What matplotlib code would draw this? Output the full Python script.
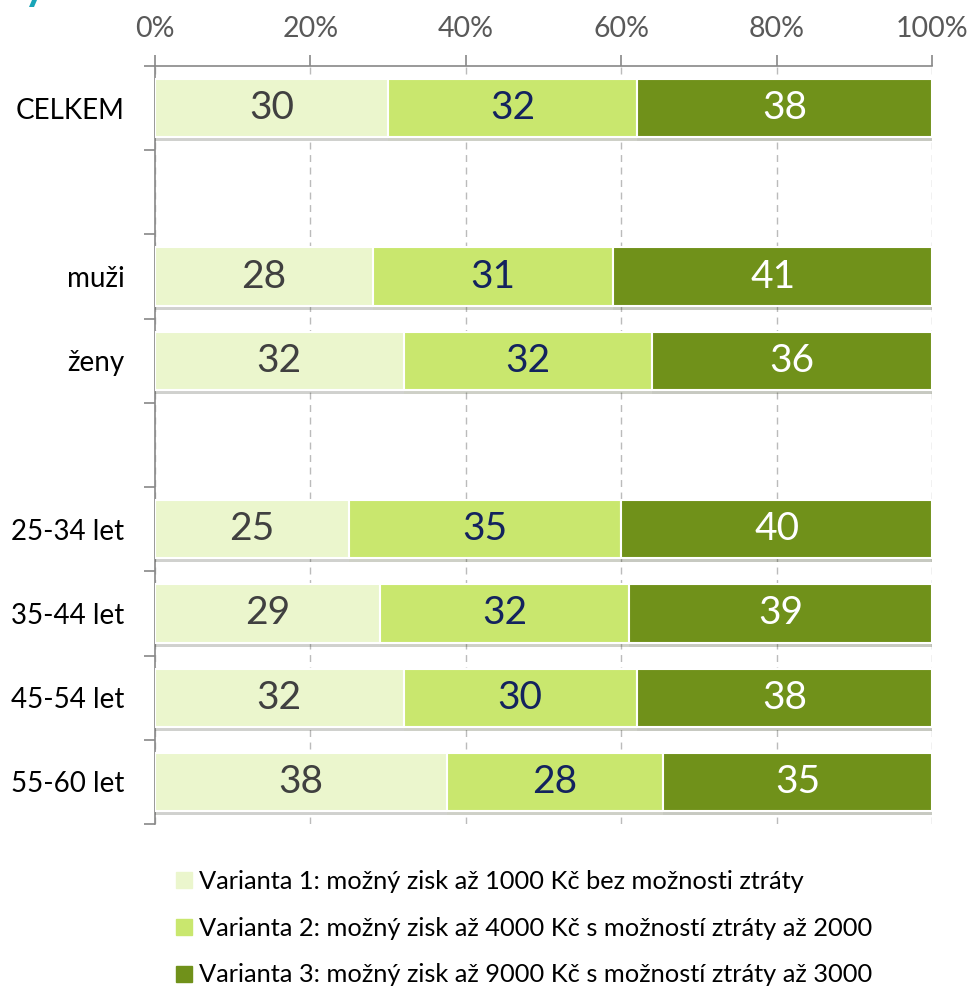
import matplotlib.pyplot as plt
import matplotlib.patheffects as pe
from matplotlib.lines import Line2D
from matplotlib.patches import Polygon
from matplotlib.ticker import MultipleLocator, FuncFormatter

plt.rcParams['font.family'] = ['Lato', 'DejaVu Sans']

# kategorie (prazdne retezce = mezery mezi skupinami)
kategorie = ["CELKEM", "", "muži", "ženy", "", "25-34 let", "35-44 let", "45-54 let", "55-60 let"]
varianta1 = [30, None, 28, 32, None, 25, 29, 32, 38]
varianta2 = [32, None, 31, 32, None, 35, 32, 30, 28]
varianta3 = [38, None, 41, 36, None, 40, 39, 38, 35]

nazvy = ["Varianta 1: možný zisk až 1000 Kč bez možnosti ztráty",
         "Varianta 2: možný zisk až 4000 Kč s možností ztráty až 2000",
         "Varianta 3: možný zisk až 9000 Kč s možností ztráty až 3000"]
barvy = ["#EBF6CD", "#C9E76E", "#70911A"]
barvy_textu = ["#404040", "#13235E", "white"]

fig = plt.figure(figsize=(9.69, 9.88), dpi=100)
ax = fig.add_axes([155 / 969, 1 - 824 / 988, 777 / 969, 758 / 988])

stin = [pe.SimplePatchShadow(offset=(0, -3), alpha=0.25), pe.Normal()]

for i, kat in enumerate(kategorie):
    if varianta1[i] is None:
        continue
    hodnoty = [varianta1[i], varianta2[i], varianta3[i]]
    soucet = sum(hodnoty)
    levy = 0
    for j, h in enumerate(hodnoty):
        sirka = h / soucet * 100
        b = ax.barh(i, sirka, left=levy, height=0.69, color=barvy[j],
                    edgecolor="white", linewidth=1.5, zorder=3)
        for p in b:
            p.set_path_effects(stin)
        ax.text(levy + sirka / 2, i, str(h), ha="center", va="center",
                fontsize=28, color=barvy_textu[j], zorder=4)
        levy += sirka

ax.set_xlim(0, 100)
ax.set_ylim(len(kategorie) - 0.5, -0.5)

ax.xaxis.tick_top()
ax.xaxis.set_major_locator(MultipleLocator(20))
ax.xaxis.set_major_formatter(FuncFormatter(lambda v, p: f"{int(v)}%"))
ax.tick_params(axis="x", direction="out", length=8, width=1.2, color="#888888",
               labelsize=20.5, labelcolor="#595959", pad=9)

ax.set_yticks(range(len(kategorie)))
ax.set_yticklabels(kategorie)
ax.set_yticks([k - 0.5 for k in range(len(kategorie) + 1)], minor=True)
ax.tick_params(axis="y", which="major", length=0, labelsize=20, pad=22, labelcolor="black")
ax.tick_params(axis="y", which="minor", length=8, width=1.2, color="#888888")

ax.grid(axis="x", linestyle=(0, (5, 4)), color="#BBBBBB", linewidth=1, zorder=0)

for s in ["right", "bottom"]:
    ax.spines[s].set_visible(False)
for s in ["top", "left"]:
    ax.spines[s].set_color("#888888")
    ax.spines[s].set_linewidth(1.2)

znacky = [Line2D([], [], marker="s", linestyle="none", markersize=11,
                 markerfacecolor=c, markeredgecolor=c) for c in barvy]
fig.legend(znacky, nazvy, loc="upper left", bbox_to_anchor=(161 / 969, 1 - 860 / 988),
           frameon=False, fontsize=18.3, handletextpad=0.1, labelspacing=0.93,
           handlelength=1.0, borderaxespad=0)

# zbytek useknuteho nadpisu vlevo nahore
fig.patches.append(Polygon([(29 / 969, 1 - 7 / 988), (34 / 969, 1 - 7 / 988),
                            (37 / 969, 1.0), (32 / 969, 1.0)],
                           closed=True, transform=fig.transFigure,
                           facecolor="#1AA5B8", edgecolor="none"))

fig.savefig("out.png", dpi=100)
